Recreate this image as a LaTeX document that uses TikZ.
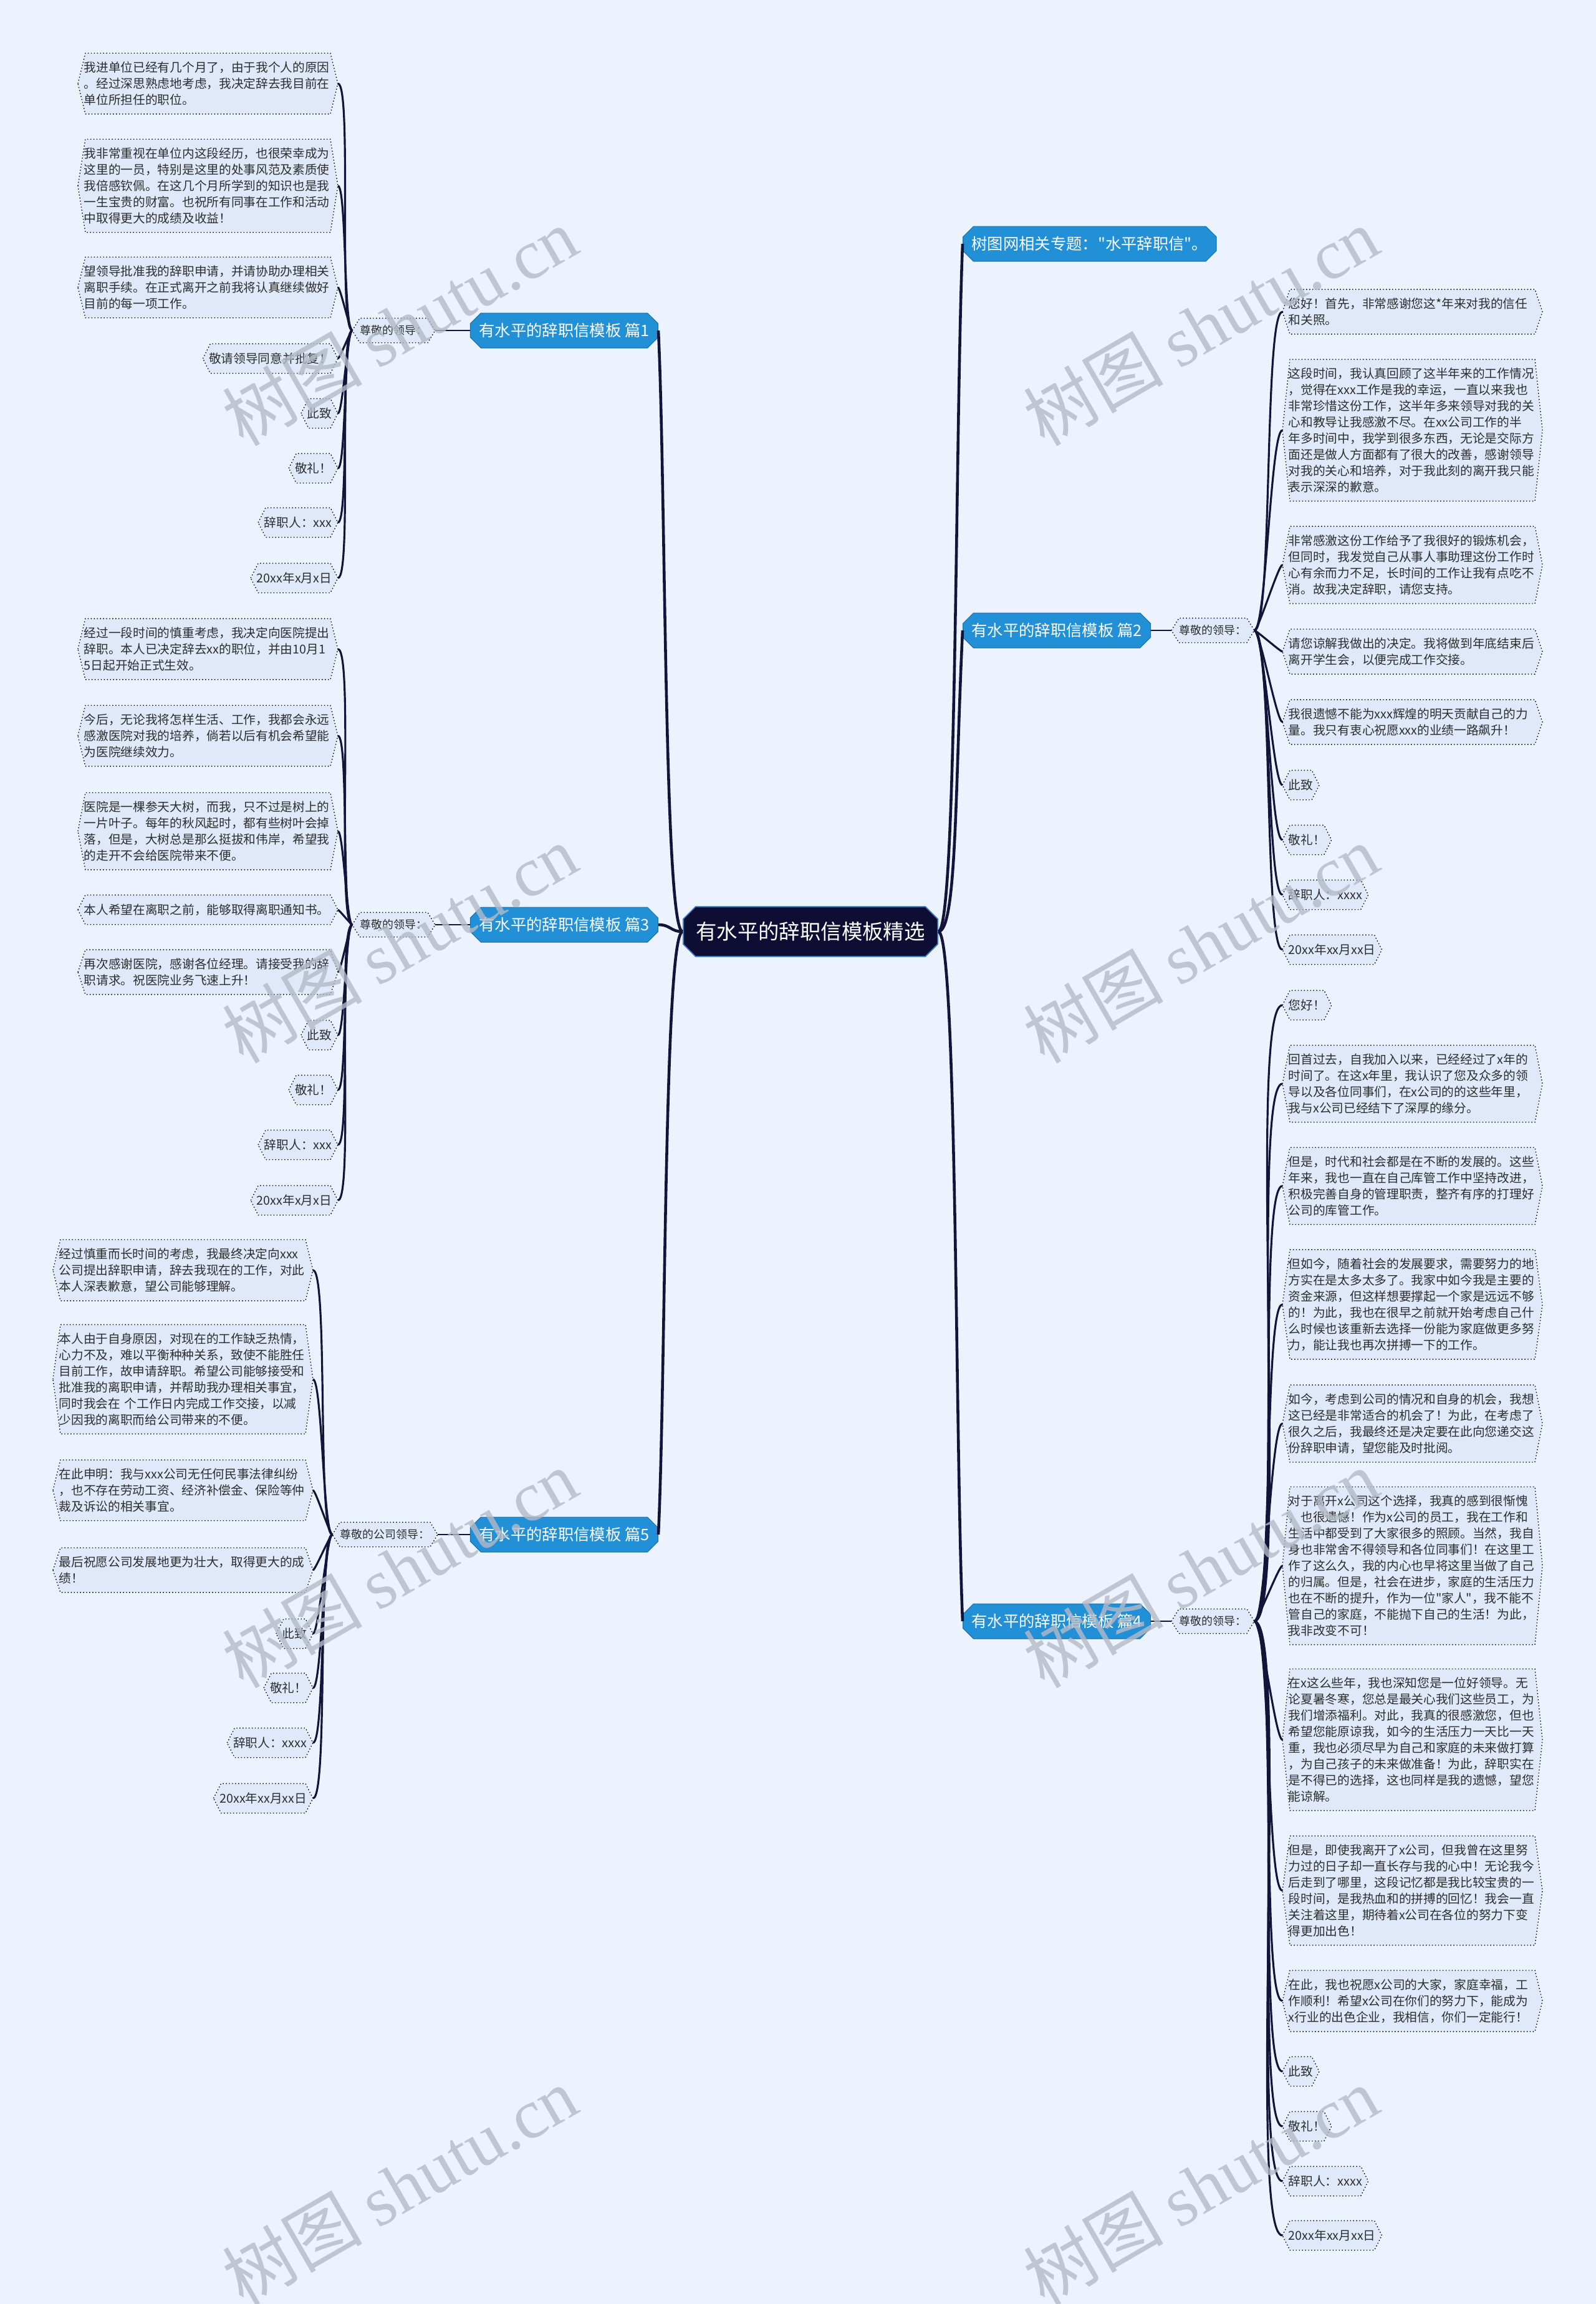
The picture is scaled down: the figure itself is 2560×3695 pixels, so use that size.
\documentclass[tikz,border=0pt]{standalone}
\usepackage{fontspec}
\setmainfont{Noto Sans CJK SC}[Ligatures=TeXOff]
\newfontfamily\marklatin{Liberation Serif}
\usetikzlibrary{shapes.misc}
\pgfdeclarelayer{paper}
\pgfdeclarelayer{plates}
\pgfsetlayers{paper,plates,main}
\definecolor{pagebg}{RGB}{237,243,254}
\definecolor{leaffill}{RGB}{224,233,250}
\definecolor{branchblue}{RGB}{33,144,214}
\definecolor{rootnavy}{RGB}{14,14,52}
\definecolor{rootedge}{RGB}{70,130,200}
\definecolor{linknavy}{RGB}{20,20,58}
\definecolor{inkgray}{RGB}{45,45,45}
\definecolor{markgray}{RGB}{180,186,198}
\begin{document}
\begin{tikzpicture}[x=0.01cm, y=-0.01cm,
  leaftxt/.style={font=\fontsize{5.6pt}{7.37pt}\selectfont, text=inkgray, inner xsep=2.6pt, inner ysep=3.7pt, minimum height=0.46cm},
  para/.style={leaftxt, text width=113pt, align=left},
  tip/.style={leaftxt, align=left},
  greet/.style={font=\fontsize{5.1pt}{6pt}\selectfont, text=inkgray, inner xsep=3.4pt, inner ysep=1pt, minimum height=0.38cm},
  branch/.style={chamfered rectangle, chamfered rectangle xsep=1.2pt, fill=branchblue, draw=branchblue!80!black, line width=0.3pt, text=white, font=\fontsize{7.2pt}{8.6pt}\selectfont, inner xsep=2.8pt, inner ysep=1pt, minimum height=0.52cm},
  root/.style={chamfered rectangle, chamfered rectangle xsep=2pt, fill=rootnavy, draw=rootedge, line width=0.5pt, text=white, font=\fontsize{9.5pt}{11pt}\selectfont, minimum width=4.08cm, minimum height=0.75cm},
  hexedge/.style={draw=black, densely dotted, line width=0.4pt, fill=leaffill},
  limb/.style={draw=linknavy, line width=1.3pt},
  stub/.style={draw=linknavy, line width=0.6pt},
  twig/.style={draw=linknavy, line width=0.9pt},
  stamp/.style={font=\fontsize{32pt}{32pt}\selectfont, text=markgray, rotate=30, text opacity=0.8}
]
  % page
  \begin{pgfonlayer}{paper}
    \fill[pagebg] (0,0) rectangle (2560,3695);
  \end{pgfonlayer}
  \useasboundingbox (0,0) rectangle (2560,3695);

  % root in the middle
  \node[root] (root) at (1300,1494) {有水平的辞职信模板精选};

  % branches on the left
  \node[branch, anchor=east] (p1) at (1056,530) {有水平的辞职信模板 篇1};
  \node[branch, anchor=east] (p3) at (1056,1483) {有水平的辞职信模板 篇3};
  \node[branch, anchor=east] (p5) at (1056,2461) {有水平的辞职信模板 篇5};
  % branches on the right
  \node[branch, anchor=west] (topic) at (1544,391) {树图网相关专题："水平辞职信"。};
  \node[branch, anchor=west] (p2) at (1544,1011) {有水平的辞职信模板 篇2};
  \node[branch, anchor=west] (p4) at (1544,2600) {有水平的辞职信模板 篇4};

  % greetings
  \node[greet, anchor=east] (s1) at (698,530) {尊敬的领导：};
  \node[greet, anchor=east] (s3) at (698,1483) {尊敬的领导：};
  \node[greet, anchor=east] (s5) at (702,2461) {尊敬的公司领导：};
  \node[greet, anchor=west] (s2) at (1879,1011) {尊敬的领导：};
  \node[greet, anchor=west] (s4) at (1879,2600) {尊敬的领导：};

  % leaves of 篇1
  \node[para, anchor=east] (a1) at (542,134) {我进单位已经有几个月了，由于我个人的原因\\。经过深思熟虑地考虑，我决定辞去我目前在\\单位所担任的职位。};
  \node[para, anchor=east] (a2) at (542,298) {我非常重视在单位内这段经历，也很荣幸成为\\这里的一员，特别是这里的处事风范及素质使\\我倍感钦佩。在这几个月所学到的知识也是我\\一生宝贵的财富。也祝所有同事在工作和活动\\中取得更大的成绩及收益！};
  \node[para, anchor=east] (a3) at (542,461) {望领导批准我的辞职申请，并请协助办理相关\\离职手续。在正式离开之前我将认真继续做好\\目前的每一项工作。};
  \node[tip, anchor=east] (a4) at (542,575) {敬请领导同意并批复！};
  \node[tip, anchor=east] (a5) at (542,663) {此致};
  \node[tip, anchor=east] (a6) at (542,751) {敬礼！};
  \node[tip, anchor=east] (a7) at (542,838) {辞职人：xxx};
  \node[tip, anchor=east] (a8) at (542,927) {20xx年x月x日};

  % leaves of 篇3
  \node[para, anchor=east] (c1) at (542,1041) {经过一段时间的慎重考虑，我决定向医院提出\\辞职。本人已决定辞去xx的职位，并由10月1\\5日起开始正式生效。};
  \node[para, anchor=east] (c2) at (542,1180) {今后，无论我将怎样生活、工作，我都会永远\\感激医院对我的培养，倘若以后有机会希望能\\为医院继续效力。};
  \node[para, anchor=east] (c3) at (542,1333) {医院是一棵参天大树，而我，只不过是树上的\\一片叶子。每年的秋风起时，都有些树叶会掉\\落，但是，大树总是那么挺拔和伟岸，希望我\\的走开不会给医院带来不便。};
  \node[para, anchor=east] (c4) at (542,1459) {本人希望在离职之前，能够取得离职通知书。};
  \node[para, anchor=east] (c5) at (542,1559) {再次感谢医院，感谢各位经理。请接受我的辞\\职请求。祝医院业务飞速上升！};
  \node[tip, anchor=east] (c6) at (542,1660) {此致};
  \node[tip, anchor=east] (c7) at (542,1748) {敬礼！};
  \node[tip, anchor=east] (c8) at (542,1836) {辞职人：xxx};
  \node[tip, anchor=east] (c9) at (542,1925) {20xx年x月x日};

  % leaves of 篇5
  \node[para, anchor=east] (e1) at (502,2037) {经过慎重而长时间的考虑，我最终决定向xxx\\公司提出辞职申请，辞去我现在的工作，对此\\本人深表歉意，望公司能够理解。};
  \node[para, anchor=east] (e2) at (502,2212) {本人由于自身原因，对现在的工作缺乏热情，\\心力不及，难以平衡种种关系，致使不能胜任\\目前工作，故申请辞职。希望公司能够接受和\\批准我的离职申请，并帮助我办理相关事宜，\\同时我会在 个工作日内完成工作交接，以减\\少因我的离职而给公司带来的不便。};
  \node[para, anchor=east] (e3) at (502,2390) {在此申明：我与xxx公司无任何民事法律纠纷\\，也不存在劳动工资、经济补偿金、保险等仲\\裁及诉讼的相关事宜。};
  \node[para, anchor=east] (e4) at (502,2518) {最后祝愿公司发展地更为壮大，取得更大的成\\绩！};
  \node[tip, anchor=east] (e5) at (502,2620) {此致};
  \node[tip, anchor=east] (e6) at (502,2707) {敬礼！};
  \node[tip, anchor=east] (e7) at (502,2795) {辞职人：xxxx};
  \node[tip, anchor=east] (e8) at (502,2884) {20xx年xx月xx日};

  % leaves of 篇2
  \node[para, anchor=west] (b1) at (2057,500) {您好！首先，非常感谢您这*年来对我的信任\\和关照。};
  \node[para, anchor=west] (b2) at (2057,690) {这段时间，我认真回顾了这半年来的工作情况\\，觉得在xxx工作是我的幸运，一直以来我也\\非常珍惜这份工作，这半年多来领导对我的关\\心和教导让我感激不尽。在xx公司工作的半\\年多时间中，我学到很多东西，无论是交际方\\面还是做人方面都有了很大的改善，感谢领导\\对我的关心和培养，对于我此刻的离开我只能\\表示深深的歉意。};
  \node[para, anchor=west] (b3) at (2057,906) {非常感激这份工作给予了我很好的锻炼机会，\\但同时，我发觉自己从事人事助理这份工作时\\心有余而力不足，长时间的工作让我有点吃不\\消。故我决定辞职，请您支持。};
  \node[para, anchor=west] (b4) at (2057,1045) {请您谅解我做出的决定。我将做到年底结束后\\离开学生会，以便完成工作交接。};
  \node[para, anchor=west] (b5) at (2057,1158) {我很遗憾不能为xxx辉煌的明天贡献自己的力\\量。我只有衷心祝愿xxx的业绩一路飙升！};
  \node[tip, anchor=west] (b6) at (2057,1259) {此致};
  \node[tip, anchor=west] (b7) at (2057,1347) {敬礼！};
  \node[tip, anchor=west] (b8) at (2057,1435) {辞职人：xxxx};
  \node[tip, anchor=west] (b9) at (2057,1523) {20xx年xx月xx日};

  % leaves of 篇4
  \node[tip, anchor=west] (d1) at (2057,1612) {您好！};
  \node[para, anchor=west] (d2) at (2057,1738) {回首过去，自我加入以来，已经经过了x年的\\时间了。在这x年里，我认识了您及众多的领\\导以及各位同事们，在x公司的的这些年里，\\我与x公司已经结下了深厚的缘分。};
  \node[para, anchor=west] (d3) at (2057,1902) {但是，时代和社会都是在不断的发展的。这些\\年来，我也一直在自己库管工作中坚持改进，\\积极完善自身的管理职责，整齐有序的打理好\\公司的库管工作。};
  \node[para, anchor=west] (d4) at (2057,2092) {但如今，随着社会的发展要求，需要努力的地\\方实在是太多太多了。我家中如今我是主要的\\资金来源，但这样想要撑起一个家是远远不够\\的！为此，我也在很早之前就开始考虑自己什\\么时候也该重新去选择一份能为家庭做更多努\\力，能让我也再次拼搏一下的工作。};
  \node[para, anchor=west] (d5) at (2057,2283) {如今，考虑到公司的情况和自身的机会，我想\\这已经是非常适合的机会了！为此，在考虑了\\很久之后，我最终还是决定要在此向您递交这\\份辞职申请，望您能及时批阅。};
  \node[para, anchor=west] (d6) at (2057,2511) {对于离开x公司这个选择，我真的感到很惭愧\\，也很遗憾！作为x公司的员工，我在工作和\\生活中都受到了大家很多的照顾。当然，我自\\身也非常舍不得领导和各位同事们！在这里工\\作了这么久，我的内心也早将这里当做了自己\\的归属。但是，社会在进步，家庭的生活压力\\也在不断的提升，作为一位"家人"，我不能不\\管自己的家庭，不能抛下自己的生活！为此，\\我非改变不可！};
  \node[para, anchor=west] (d7) at (2057,2790) {在x这么些年，我也深知您是一位好领导。无\\论夏暑冬寒，您总是最关心我们这些员工，为\\我们增添福利。对此，我真的很感激您，但也\\希望您能原谅我，如今的生活压力一天比一天\\重，我也必须尽早为自己和家庭的未来做打算\\，为自己孩子的未来做准备！为此，辞职实在\\是不得已的选择，这也同样是我的遗憾，望您\\能谅解。};
  \node[para, anchor=west] (d8) at (2057,3032) {但是，即使我离开了x公司，但我曾在这里努\\力过的日子却一直长存与我的心中！无论我今\\后走到了哪里，这段记忆都是我比较宝贵的一\\段时间，是我热血和的拼搏的回忆！我会一直\\关注着这里，期待着x公司在各位的努力下变\\得更加出色！};
  \node[para, anchor=west] (d9) at (2057,3209) {在此，我也祝愿x公司的大家，家庭幸福，工\\作顺利！希望x公司在你们的努力下，能成为\\x行业的出色企业，我相信，你们一定能行！};
  \node[tip, anchor=west] (d10) at (2057,3322) {此致};
  \node[tip, anchor=west] (d11) at (2057,3410) {敬礼！};
  \node[tip, anchor=west] (d12) at (2057,3498) {辞职人：xxxx};
  \node[tip, anchor=west] (d13) at (2057,3585) {20xx年xx月xx日};

  % dotted hexagon plates behind leaves and greetings
  \begin{pgfonlayer}{plates}
    \foreach \n in {s1,s2,s3,s4,s5,a1,a2,a3,a4,a5,a6,a7,a8,c1,c2,c3,c4,c5,c6,c7,c8,c9,e1,e2,e3,e4,e5,e6,e7,e8,b1,b2,b3,b4,b5,b6,b7,b8,b9,d1,d2,d3,d4,d5,d6,d7,d8,d9,d10,d11,d12,d13}
      \draw[hexedge] (\n.west) -- ([xshift=0.12cm]\n.north west) -- ([xshift=-0.12cm]\n.north east)
        -- (\n.east) -- ([xshift=-0.12cm]\n.south east) -- ([xshift=0.12cm]\n.south west) -- cycle;
  \end{pgfonlayer}

  % root to branches
  \draw[limb] (root.west) .. controls +(-30,0) and +(12,250) .. (p1.east);
  \draw[limb] (root.west) .. controls +(-20,0) and +(20,0) .. (p3.east);
  \draw[limb] (root.west) .. controls +(-30,0) and +(12,-250) .. (p5.east);
  \draw[limb] (root.east) .. controls +(30,0) and +(-12,300) .. (topic.west);
  \draw[limb] (root.east) .. controls +(30,0) and +(-12,250) .. (p2.west);
  \draw[limb] (root.east) .. controls +(30,0) and +(-12,-300) .. (p4.west);

  % branches to greetings
  \draw[stub] (p1.west) -- (s1.east);
  \draw[stub] (p3.west) -- (s3.east);
  \draw[stub] (p5.west) -- (s5.east);
  \draw[stub] (p2.east) -- (s2.west);
  \draw[stub] (p4.east) -- (s4.west);

  % greetings to leaves
  \foreach \n in {a1,a2,a3,a4,a5,a6,a7,a8}
    \draw[twig] (s1.west) to[out=180, in=0, looseness=0.15] (\n.east);
  \foreach \n in {c1,c2,c3,c4,c5,c6,c7,c8,c9}
    \draw[twig] (s3.west) to[out=180, in=0, looseness=0.15] (\n.east);
  \foreach \n in {e1,e2,e3,e4,e5,e6,e7,e8}
    \draw[twig] (s5.west) to[out=180, in=0, looseness=0.15] (\n.east);
  \foreach \n in {b1,b2,b3,b4,b5,b6,b7,b8,b9}
    \draw[twig] (s2.east) to[out=0, in=180, looseness=0.15] (\n.west);
  \foreach \n in {d1,d2,d3,d4,d5,d6,d7,d8,d9,d10,d11,d12,d13}
    \draw[twig] (s4.east) to[out=0, in=180, looseness=0.15] (\n.west);

  % watermarks
  \foreach \wx/\wy [count=\k] in {641/523, 1926/523, 641/1513, 1926/1513, 641/2515, 1926/2515, 641/3505, 1926/3505}
    \node[stamp] (wm\k) at (\wx,\wy) {树图 {\marklatin shutu.cn}};
\end{tikzpicture}
\end{document}
